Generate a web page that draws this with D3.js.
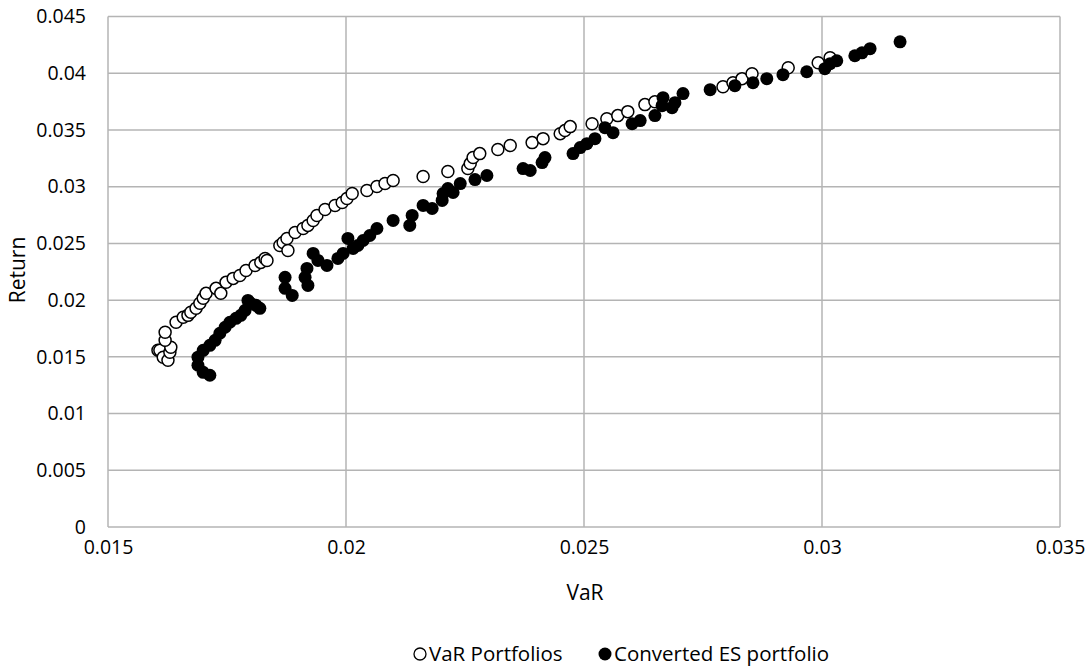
<!DOCTYPE html>
<html>
<head>
<meta charset="utf-8">
<script src="https://cdn.jsdelivr.net/npm/d3@7"></script>
<style>
  body { margin: 0; background: #fff; }
  text { font-family: "Open Sans", "Noto Sans", sans-serif; fill: #000; }
</style>
</head>
<body>
<script>
// VaR portfolios (open circles)
var varX = [0.01605,0.01609,0.01616,0.01626,0.01630,0.01632,0.01620,0.01620,0.01643,0.01658,0.01668,0.01674,0.01685,0.01693,0.01700,0.01706,0.01727,0.01737,0.01748,0.01763,0.01777,0.01790,0.01809,0.01821,0.01830,0.01834,0.01861,0.01868,0.01878,0.01876,0.01893,0.01910,0.01920,0.01931,0.01939,0.01956,0.01977,0.01992,0.02002,0.02013,0.02044,0.02065,0.02082,0.02099,0.02162,0.02214,0.02256,0.02261,0.02267,0.02281,0.02319,0.02345,0.02391,0.02414,0.02450,0.02460,0.02471,0.02517,0.02548,0.02571,0.02592,0.02628,0.02649,0.02792,0.02813,0.02832,0.02853,0.02929,0.02992,0.03017];
var varY = [0.01558,0.01558,0.01497,0.01470,0.01541,0.01585,0.01646,0.01717,0.01805,0.01849,0.01866,0.01893,0.01928,0.01972,0.02016,0.02060,0.02104,0.02060,0.02157,0.02192,0.02218,0.02262,0.02306,0.02333,0.02368,0.02350,0.02482,0.02509,0.02438,0.02544,0.02597,0.02632,0.02659,0.02703,0.02747,0.02799,0.02835,0.02861,0.02896,0.02940,0.02967,0.03002,0.03028,0.03055,0.03090,0.03134,0.03160,0.03204,0.03257,0.03292,0.03328,0.03363,0.03389,0.03424,0.03468,0.03495,0.03530,0.03556,0.03600,0.03627,0.03662,0.03724,0.03750,0.03882,0.03917,0.03953,0.03997,0.04049,0.04093,0.04137];

// Converted ES portfolio (filled circles)
var esX = [0.01689,0.01700,0.01714,0.01689,0.01700,0.01714,0.01725,0.01735,0.01746,0.01756,0.01769,0.01779,0.01788,0.01794,0.01800,0.01811,0.01819,0.01872,0.01872,0.01887,0.01918,0.01914,0.01920,0.01931,0.01941,0.01960,0.01983,0.01994,0.02004,0.02015,0.02025,0.02036,0.02050,0.02065,0.02099,0.02139,0.02134,0.02162,0.02181,0.02202,0.02204,0.02214,0.02225,0.02240,0.02271,0.02296,0.02372,0.02387,0.02412,0.02418,0.02477,0.02492,0.02506,0.02523,0.02544,0.02561,0.02601,0.02618,0.02649,0.02666,0.02664,0.02685,0.02691,0.02708,0.02765,0.02817,0.02855,0.02884,0.02918,0.02968,0.03006,0.03017,0.03031,0.03069,0.03084,0.03101,0.03164];
var esY = [0.01426,0.01364,0.01338,0.01497,0.01558,0.01602,0.01646,0.01708,0.01761,0.01805,0.01840,0.01866,0.01910,0.01998,0.01972,0.01954,0.01928,0.02201,0.02104,0.02042,0.02280,0.02201,0.02130,0.02412,0.02350,0.02306,0.02368,0.02412,0.02544,0.02456,0.02482,0.02526,0.02570,0.02632,0.02703,0.02747,0.02659,0.02835,0.02808,0.02879,0.02940,0.02984,0.02949,0.03028,0.03063,0.03099,0.03160,0.03143,0.03213,0.03257,0.03292,0.03345,0.03380,0.03424,0.03521,0.03477,0.03556,0.03583,0.03627,0.03785,0.03715,0.03697,0.03741,0.03821,0.03856,0.03891,0.03917,0.03953,0.03988,0.04014,0.04041,0.04085,0.04111,0.04155,0.04181,0.04217,0.04278];

var xTicks = [0.015, 0.02, 0.025, 0.03, 0.035];
var yTicks = [0, 0.005, 0.01, 0.015, 0.02, 0.025, 0.03, 0.035, 0.04, 0.045];
var seriesNames = ["VaR Portfolios", "Converted ES portfolio"];

var svg = d3.select("body").append("svg")
    .attr("width", 1090)
    .attr("height", 668);

var x = d3.scaleLinear().domain([0.015, 0.035]).range([108, 1060]),
    y = d3.scaleLinear().domain([0, 0.045]).range([527, 16.6]);

var grid = svg.append("g").attr("class", "grid");

// horizontal gridlines
grid.selectAll(".hline")
  .data(yTicks)
  .enter().append("line")
    .attr("x1", x(0.015)).attr("x2", x(0.035))
    .attr("y1", function(d) { return y(d); })
    .attr("y2", function(d) { return y(d); })
    .attr("stroke", "#b4b4b4")
    .attr("stroke-width", 1.5);

// vertical gridlines
grid.selectAll(".vline")
  .data(xTicks)
  .enter().append("line")
    .attr("y1", y(0)).attr("y2", y(0.045))
    .attr("x1", function(d) { return x(d); })
    .attr("x2", function(d) { return x(d); })
    .attr("stroke", "#b4b4b4")
    .attr("stroke-width", 1.5);

// axes labels only (lines come from the grid)
var xAxis = svg.append("g")
    .attr("transform", "translate(0," + y(0) + ")")
    .call(d3.axisBottom(x).tickValues(xTicks).tickSize(0).tickPadding(13).tickFormat(d3.format("")));
var yAxis = svg.append("g")
    .attr("transform", "translate(" + x(0.015) + ",0)")
    .call(d3.axisLeft(y).tickValues(yTicks).tickSize(0).tickPadding(22).tickFormat(d3.format("")));

[xAxis, yAxis].forEach(function(a) {
  a.select(".domain").remove();
  a.selectAll("text")
    .style("font-size", "19.5px")
    .style("font-family", "'Open Sans', 'Noto Sans', sans-serif")
    .attr("fill", "#000");
});

// VaR Portfolios
svg.append("g").selectAll("circle")
  .data(varX)
  .enter().append("circle")
    .attr("cx", function(d) { return x(d); })
    .attr("cy", function(d, i) { return y(varY[i]); })
    .attr("r", 6)
    .attr("fill", "#fff")
    .attr("stroke", "#000")
    .attr("stroke-width", 1.5);

// Converted ES portfolio
svg.append("g").selectAll("circle")
  .data(esX)
  .enter().append("circle")
    .attr("cx", function(d) { return x(d); })
    .attr("cy", function(d, i) { return y(esY[i]); })
    .attr("r", 6.5)
    .attr("fill", "#000");

// axis titles
svg.append("text")
    .attr("x", 585).attr("y", 600)
    .attr("text-anchor", "middle")
    .style("font-size", "21px")
    .text("VaR");

svg.append("text")
    .attr("transform", "translate(25,270) rotate(-90)")
    .attr("text-anchor", "middle")
    .style("font-size", "21px")
    .text("Return");

// legend
var legend = svg.append("g");
legend.append("circle")
    .attr("cx", 420).attr("cy", 654).attr("r", 6)
    .attr("fill", "#fff").attr("stroke", "#000").attr("stroke-width", 1.3);
legend.append("text")
    .attr("x", 429).attr("y", 661)
    .style("font-size", "20.5px")
    .text(seriesNames[0]);
legend.append("circle")
    .attr("cx", 605).attr("cy", 654).attr("r", 6.5)
    .attr("fill", "#000");
legend.append("text")
    .attr("x", 614).attr("y", 661)
    .style("font-size", "20.5px")
    .text(seriesNames[1]);
</script>
</body>
</html>
